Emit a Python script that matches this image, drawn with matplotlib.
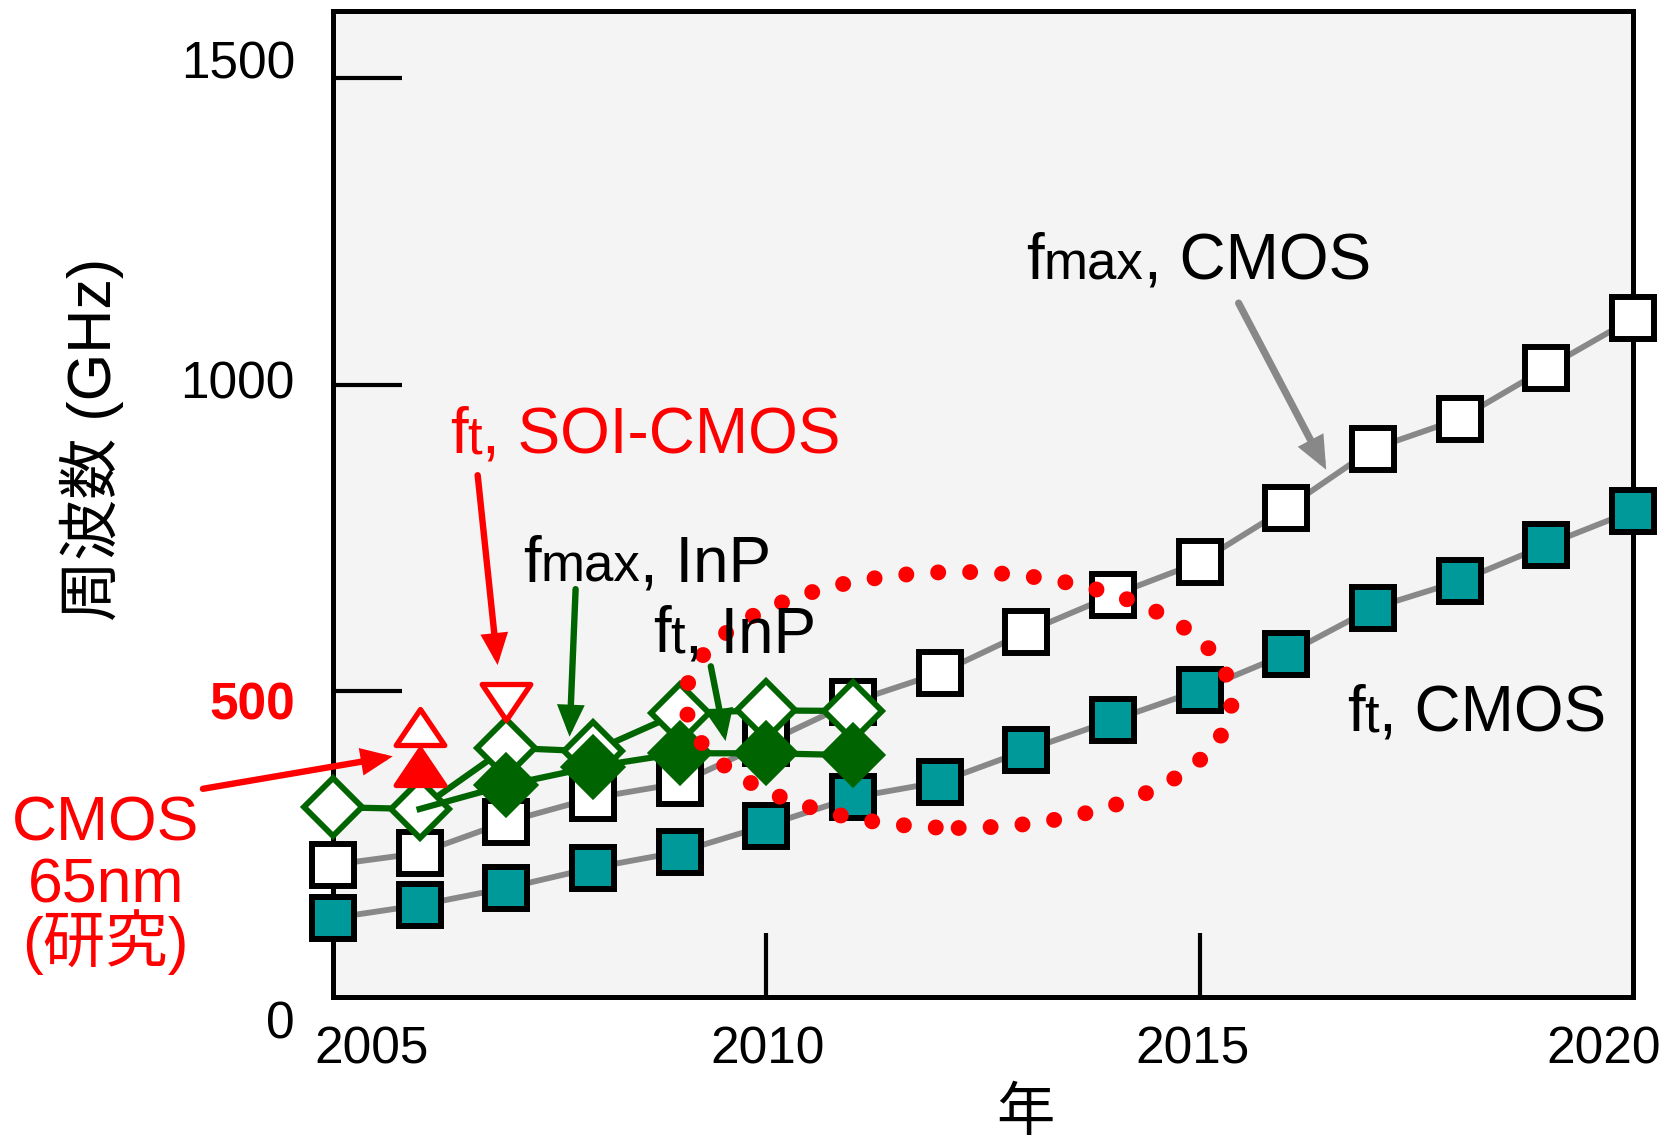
import matplotlib
matplotlib.use("Agg")
import matplotlib.pyplot as plt
from matplotlib.patches import Ellipse
from matplotlib.markers import MarkerStyle
from matplotlib.path import Path

plt.rcParams['font.family'] = ['Liberation Sans', 'Noto Sans CJK JP']

# ---------------- data ----------------
years = list(range(2005, 2021))
ft_cmos = [129, 150, 178, 211, 237, 280, 326, 351, 403, 452, 501, 560, 635, 679, 738, 794]
fmax_cmos = [216, 235, 286, 325, 349, 415, 482, 529, 596, 656, 710, 798, 895, 944, 1027, 1108]

inp_fmax_years = [2005, 2006, 2007, 2008, 2009, 2010, 2011]
fmax_inp = [310, 307, 407, 401, 464, 468, 467]
inp_ft_years = [2006, 2007, 2008, 2009, 2010, 2011]
ft_inp = [307, 346, 376, 398, 398, 395]

cmos65_year = [2006]
cmos65_fmax = [441]
cmos65_ft = [376]
soi_year = [2007]
soi_ft = [482]

ytick_vals = [0, 500, 1000, 1500]
ytick_labels = ['0', '500', '1000', '1500']
xtick_vals = [2005, 2010, 2015, 2020]
xtick_labels = ['2005', '2010', '2015', '2020']

# ---------------- style ----------------
GRAY = '#888888'
TEAL = '#009999'
GREEN = '#006400'
RED = '#ff0000'

fig = plt.figure(figsize=(16.68, 11.43), dpi=100)
ax = fig.add_axes([0.1996, 0.1277, 0.7794, 0.8627])
ax.set_facecolor('#f4f4f4')
ax.set_xlim(2005, 2020)
ax.set_ylim(0, 1610)
for sp in ax.spines.values():
    sp.set_linewidth(3.6)
    sp.set_zorder(2)

ax.set_xticks([v for v in xtick_vals if v not in (2005, 2020)])
ax.set_yticks([v for v in ytick_vals if v != 0])
ax.tick_params(axis='both', direction='in', width=3, labelleft=False,
               labelbottom=False, color='black')
ax.tick_params(axis='y', length=50)
ax.tick_params(axis='x', length=46)

# manual tick labels (offsets in points)
y_off = {0: -29.5, 500: -21, 1000: -10, 1500: 0}
for v, lab in zip(ytick_vals, ytick_labels):
    kw = dict(fontsize=37, color='black')
    if v == 500:
        kw = dict(fontsize=37, color=RED, fontweight='bold')
    ax.annotate(lab, xy=(0, v), xycoords=('axes fraction', 'data'),
                xytext=(-27.4, y_off[v]), textcoords='offset points',
                ha='right', va='baseline', annotation_clip=False, **kw)
x_off = {2005: 28, 2010: 1, 2015: -5, 2020: -21}
for v, lab in zip(xtick_vals, xtick_labels):
    ax.annotate(lab, xy=(v, 0), xycoords=('data', 'axes fraction'),
                xytext=(x_off[v], -47.5), textcoords='offset points',
                ha='center', va='baseline', fontsize=37,
                annotation_clip=False)

fig.text(1025 / 1668, 1 - 1115 / 1143, '年', fontsize=42, ha='center', va='center')
fig.text(92 / 1668, 1 - 439 / 1143, '周波数 (GHz)', fontsize=44, rotation=90,
         ha='center', va='center')

# ---------------- series ----------------
ax.plot(years, fmax_cmos, '-', color=GRAY, lw=4.2, marker='s', ms=30,
        mfc='white', mec='black', mew=4.3, zorder=3, clip_on=False)
ax.plot(years, ft_cmos, '-', color=GRAY, lw=4.2, marker='s', ms=30,
        mfc=TEAL, mec='black', mew=4.3, zorder=3, clip_on=False)
ax.plot(inp_fmax_years, fmax_inp, '-', color=GREEN, lw=4.5, marker='D', ms=30,
        mfc='white', mec=GREEN, mew=4.2, zorder=4, clip_on=False)
ax.plot(inp_ft_years, ft_inp, '-', color=GREEN, lw=4.5, marker='D', ms=30,
        mfc=GREEN, mec=GREEN, mew=4.2, zorder=5, clip_on=False,
        markevery=list(range(1, len(ft_inp))))

tri_up = Path([(-1, -0.74), (1, -0.74), (0, 0.74), (-1, -0.74)],
              [Path.MOVETO, Path.LINETO, Path.LINETO, Path.CLOSEPOLY])
tri_dn = Path([(-1, 0.74), (1, 0.74), (0, -0.74), (-1, 0.74)],
              [Path.MOVETO, Path.LINETO, Path.LINETO, Path.CLOSEPOLY])
m_up = MarkerStyle(tri_up, joinstyle='miter')
m_dn = MarkerStyle(tri_dn, joinstyle='miter')
ax.plot(cmos65_year, cmos65_fmax, ls='none', marker=m_up, ms=35, mfc='white',
        mec=RED, mew=3.8, zorder=6)
ax.plot(cmos65_year, cmos65_ft, ls='none', marker=m_up, ms=35, mfc=RED,
        mec=RED, mew=3.8, zorder=7)
ax.plot(soi_year, soi_ft, ls='none', marker=m_dn, ms=35, mfc='white',
        mec=RED, mew=3.8, zorder=6)

# dotted red ellipse
ell = Ellipse((2012.22, 485), 6.30, 418, fill=False, edgecolor=RED, lw=11.5,
              linestyle=(0, (0.001, 2.0)), zorder=8)
ell.set_capstyle('round')
ax.add_patch(ell)

# ---------------- arrows ----------------
def arrow(tail, tip, color, lw):
    ax.annotate('', xy=tip, xytext=tail, xycoords='data', textcoords='data',
                annotation_clip=False,
                arrowprops=dict(arrowstyle='-|>,head_length=1.5,head_width=0.65',
                                color=color, lw=lw, shrinkA=0, shrinkB=0,
                                mutation_scale=10, joinstyle='miter'),
                zorder=9)

arrow((2003.50, 340), (2005.69, 393), RED, 4.6)
arrow((2006.67, 852), (2006.90, 542), RED, 4.6)
arrow((2007.80, 666), (2007.73, 425), GREEN, 4.6)
arrow((2009.36, 540), (2009.53, 418), GREEN, 4.6)
arrow((2015.45, 1133), (2016.46, 861), GRAY, 5.2)

# ---------------- labels ----------------
def rich(x, y, segs, color):
    prev = ax.text(x, y, segs[0][0], fontsize=segs[0][1], color=color,
                   ha='left', va='baseline', zorder=10)
    for s, fs in segs[1:]:
        prev = ax.annotate(s, xy=(1, y), xycoords=(prev, 'data'), fontsize=fs,
                           color=color, ha='left', va='baseline', zorder=10,
                           annotation_clip=False)

MAIN, SUB = 46, 38
rich(2013.0, 1172, [('f', MAIN), ('max', SUB), (', CMOS', MAIN)], 'black')
rich(2016.70, 434, [('f', MAIN), ('t', SUB), (', CMOS', MAIN)], 'black')
rich(2006.35, 888, [('f', MAIN), ('t', SUB), (', SOI-CMOS', MAIN)], RED)
rich(2007.19, 678, [('f', MAIN), ('max', SUB), (', InP', MAIN)], 'black')
rich(2008.69, 563, [('f', MAIN), ('t', SUB), (', InP', MAIN)], 'black')

for txt, yb in [('CMOS', 256), ('65nm', 155), ('(研究)', 57)]:
    ax.text(2002.38, yb, txt, fontsize=45, color=RED, ha='center',
            va='baseline', clip_on=False)

fig.savefig('out.png', dpi=100, facecolor='white')
